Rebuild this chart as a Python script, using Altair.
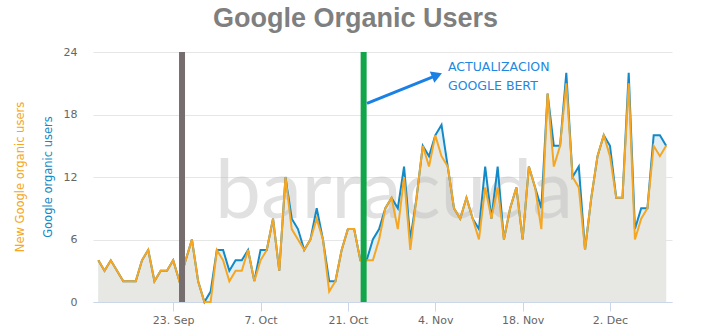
import altair as alt
import pandas as pd

# ---- data ----
dates = pd.date_range("2019-09-11", periods=92, freq="D").strftime("%Y-%m-%d").tolist()
users = [4, 3, 4, 3, 2, 2, 2, 4, 5, 2,
         3, 3, 4, 2, 4, 6, 2, 0, 1, 5,
         5, 3, 4, 4, 5, 2, 5, 5, 8, 3,
         12, 8, 7, 5, 6, 9, 6, 2, 2, 5,
         7, 7, 4, 4, 6, 7, 9, 10, 9, 13,
         6, 10, 15, 14, 16, 17, 13, 9, 8, 10,
         8, 7, 13, 8, 13, 6, 9, 11, 6, 13,
         11, 9, 20, 15, 15, 22, 12, 13, 5, 10,
         14, 16, 15, 10, 10, 22, 7, 9, 9, 16,
         16, 15]
new_users = [4, 3, 4, 3, 2, 2, 2, 4, 5, 2,
             3, 3, 4, 2, 4, 6, 2, 0, 0, 5,
             4, 2, 3, 3, 5, 2, 4, 5, 8, 3,
             12, 7, 6, 5, 6, 8, 6, 1, 2, 5,
             7, 7, 4, 4, 4, 6, 9, 10, 7, 12,
             5, 10, 15, 13, 16, 14, 13, 9, 8, 10,
             8, 6, 11, 8, 11, 6, 9, 11, 6, 13,
             11, 7, 20, 13, 15, 21, 12, 11, 5, 10,
             14, 16, 14, 10, 10, 21, 6, 8, 9, 15,
             14, 15]
tick_dates = [(2019, 9, 23), (2019, 10, 7), (2019, 10, 21),
              (2019, 11, 4), (2019, 11, 18), (2019, 12, 2)]
y_ticks = [0, 6, 12, 18, 24]
core_update_date = ["2019-09-24T10:00:00Z"]
bert_update_date = ["2019-10-23T12:30:00Z"]

title_text = "Google Organic Users"
y_title_new = "New Google organic users"
y_title_users = "Google organic users"
note_line1 = "ACTUALIZACION"
note_line2 = "GOOGLE BERT"
watermark = "barracuda"

df = pd.DataFrame({"date": dates, "users": users, "new_users": new_users})

BLUE = "#1489c6"
ORANGE = "#f5a623"
FONT = "DejaVu Sans"

x_scale = alt.Scale(
    type="utc",
    domain=[alt.DateTime(year=2019, month=9, date=10, hours=3, minutes=36, utc=True),
            alt.DateTime(year=2019, month=12, date=11, hours=22, minutes=30, utc=True)],
)
x_axis = alt.Axis(
    values=[alt.DateTime(year=y, month=m, date=d, utc=True) for (y, m, d) in tick_dates],
    labelExpr="utcFormat(datum.value, '%-d. %b')",
    title=None, grid=False,
    domainColor="#ccd6eb", domainWidth=1,
    tickColor="#ccd6eb", tickSize=9,
    labelPadding=3, labelFont=FONT, labelFontSize=11, labelColor="#666666",
    labelFlush=False,
)
y_scale = alt.Scale(domain=[0, 24], nice=False, zero=True)
y_axis = alt.Axis(
    values=y_ticks, title=None, domain=False, ticks=False,
    gridColor="#e6e6e6", gridWidth=1,
    labelPadding=16, labelFont=FONT, labelFontSize=11, labelColor="#666666",
)

base = alt.Chart(df)
X = alt.X("date:T", scale=x_scale, axis=x_axis)
Y_USERS = alt.Y("users:Q", scale=y_scale, axis=y_axis)
Y_NEW = alt.Y("new_users:Q", scale=y_scale, axis=y_axis)

area_users = base.mark_area(color="#e0eff6", opacity=1).encode(x=X, y=Y_USERS)
area_new = base.mark_area(color="#e7e8e3", opacity=1).encode(x=X, y=Y_NEW)


def single(label):
    return alt.Chart(pd.DataFrame({"label": [label]}))


wm = single(watermark).mark_text(
    font="Lato", fontSize=82, color="#bdbdbd", opacity=0.45,
    align="left", baseline="alphabetic").encode(
    text="label:N", x=alt.value(122), y=alt.value(166))

line_users = base.mark_line(color=BLUE, strokeWidth=2).encode(x=X, y=Y_USERS)
line_new = base.mark_line(color=ORANGE, strokeWidth=2).encode(x=X, y=Y_NEW)

rule_core = alt.Chart(pd.DataFrame({"date": core_update_date})).mark_rule(
    color="#766e6e", strokeWidth=6).encode(x=X)
rule_bert = alt.Chart(pd.DataFrame({"date": bert_update_date})).mark_rule(
    color="#12a64b", strokeWidth=6).encode(x=X)

ARROW = "#1a80e6"
arrow_shaft = single("a").mark_rule(color=ARROW, strokeWidth=3).encode(
    x=alt.value(274), y=alt.value(51.3), x2=alt.value(343), y2=alt.value(23.6))
arrow_head = single("a").mark_point(
    shape="triangle-right", filled=True, size=150, angle=338, color=ARROW, opacity=1).encode(
    x=alt.value(344), y=alt.value(23.2))

note1 = single(note_line1).mark_text(
    font=FONT, fontSize=12.5, color="#1e88e0", align="left", baseline="alphabetic").encode(
    text="label:N", x=alt.value(355), y=alt.value(18.7))
note2 = single(note_line2).mark_text(
    font=FONT, fontSize=12.5, color="#1e88e0", align="left", baseline="alphabetic").encode(
    text="label:N", x=alt.value(355), y=alt.value(38))

title = single(title_text).mark_text(
    font="Liberation Sans", fontSize=27, fontWeight="bold", color="#7f7f7f",
    align="center", baseline="alphabetic").encode(
    text="label:N", x=alt.value(262.5), y=alt.value(-25))

ytitle_new = single(y_title_new).mark_text(
    font=FONT, fontSize=11.5, color=ORANGE, angle=270,
    align="center", baseline="middle").encode(
    text="label:N", x=alt.value(-72), y=alt.value(125))
ytitle_users = single(y_title_users).mark_text(
    font=FONT, fontSize=11.5, color=BLUE, angle=270,
    align="center", baseline="middle").encode(
    text="label:N", x=alt.value(-44), y=alt.value(125))

chart = alt.layer(
    area_users, area_new, wm, line_users, line_new, rule_core, rule_bert,
    arrow_shaft, arrow_head, note1, note2, title, ytitle_new, ytitle_users,
).properties(
    width=579, height=250,
    autosize=alt.AutoSizeParams(type="none"),
    padding={"left": 93, "top": 52, "right": 32, "bottom": 32},
    background="white",
).configure_view(stroke=None)

chart.save("out.html", embed_options={"renderer": "svg", "actions": False})
